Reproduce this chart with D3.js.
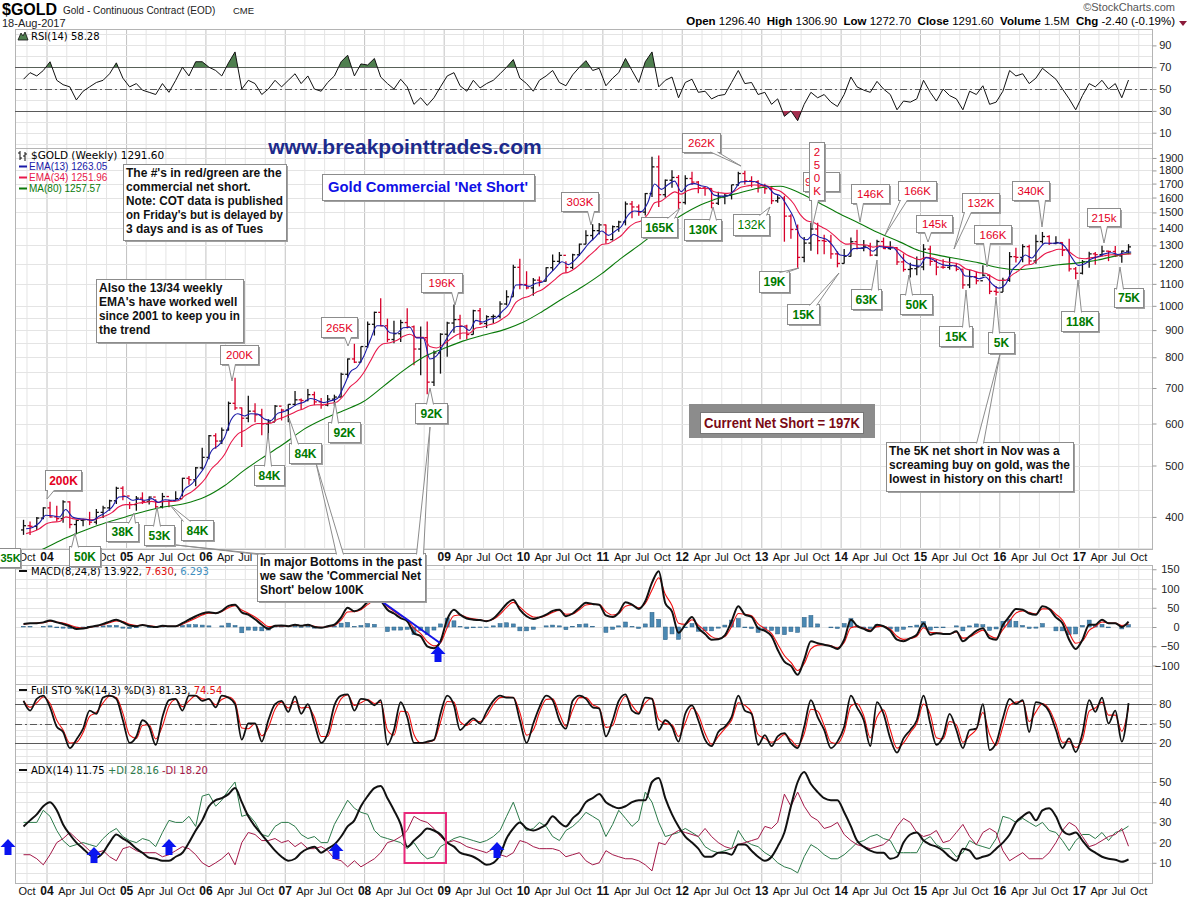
<!DOCTYPE html>
<html>
<head>
<meta charset="utf-8">
<title>$GOLD weekly - commercial net short</title>
<script src="https://cdn.jsdelivr.net/npm/d3@7"></script>
<style>
  body { margin: 0; background: #fff; }
  text { font-family: "Liberation Sans", Arial, sans-serif; }
  .mono { font-family: "DejaVu Sans", Verdana, sans-serif; }
</style>
</head>
<body>
<svg id="chart" width="1200" height="900"></svg>
<script>
// monthly samples, Sep 2003 .. Aug 2017
var highs = [395,392,400,417,
  427,420,430,428,395,397,409,414,420,431,456,457,
  427,438,445,437,432,444,431,447,474,478,497,540,
  571,575,590,660,732,643,677,655,640,611,650,640,
  652,691,669,697,689,670,679,680,748,796,848,838,
  934,975,1033,946,937,941,990,918,914,934,824,888,
  933,1006,962,921,983,991,960,963,1020,1070,1195,1227,
  1162,1128,1136,1182,1249,1263,1213,1254,1310,1389,1425,1432,
  1424,1417,1447,1573,1577,1552,1632,1911,1921,1730,1802,1764,
  1763,1790,1719,1679,1666,1640,1626,1691,1790,1798,1755,1725,
  1698,1683,1616,1612,1488,1424,1348,1434,1434,1362,1362,1267,
  1280,1345,1392,1331,1315,1332,1345,1324,1291,1255,1205,1239,
  1307,1298,1224,1224,1232,1205,1175,1170,1159,1192,1145,1090,
  1130,1263,1287,1306,1304,1362,1378,1358,1353,1318,1338,1184,
  1220,1264,1263,1298,1270,1297,1272,1307];
var lows = [370,370,378,396,
  399,392,390,381,371,384,386,387,398,411,423,430,
  414,411,423,422,414,415,417,430,437,460,457,491,
  514,538,549,582,636,542,603,603,570,560,605,608,
  603,648,637,661,650,640,647,648,673,731,780,782,
  834,879,915,854,850,855,906,773,740,681,706,745,
  802,890,865,864,883,920,908,928,947,1002,1040,1075,
  1074,1045,1088,1111,1163,1201,1155,1174,1242,1306,1330,1363,
  1309,1328,1379,1418,1462,1478,1480,1603,1535,1600,1670,1523,
  1553,1690,1631,1613,1527,1549,1555,1587,1684,1694,1673,1635,
  1627,1555,1565,1321,1338,1180,1208,1270,1251,1251,1227,1182,
  1202,1239,1277,1268,1240,1240,1280,1274,1194,1160,1131,1142,
  1167,1190,1142,1175,1170,1162,1077,1080,1098,1136,1052,1046,
  1062,1110,1207,1208,1199,1200,1310,1302,1307,1241,1161,1122,
  1146,1180,1195,1240,1214,1236,1205,1251];
var closes = [385,384,398,416,
  400,397,427,387,394,395,391,408,416,429,453,438,
  422,434,428,436,418,437,429,433,473,470,495,518,
  569,556,583,655,642,614,633,623,599,604,647,636,
  652,665,663,680,659,650,667,673,743,794,783,838,
  923,972,917,864,886,930,913,829,871,718,815,884,
  928,942,916,883,979,926,954,955,1008,1040,1182,1097,
  1081,1118,1113,1180,1213,1245,1181,1248,1307,1357,1386,1421,
  1333,1410,1439,1556,1536,1502,1628,1828,1620,1725,1746,1566,
  1738,1711,1669,1664,1561,1604,1615,1691,1776,1720,1714,1675,
  1663,1578,1596,1476,1393,1234,1313,1396,1327,1323,1253,1202,
  1240,1321,1284,1296,1246,1322,1282,1287,1210,1171,1175,1184,
  1279,1213,1183,1182,1190,1172,1095,1135,1115,1142,1065,1061,
  1117,1238,1234,1293,1215,1322,1351,1311,1316,1273,1174,1152,
  1211,1253,1249,1268,1266,1242,1268,1291.6];
var firstOpen = 378;
var ema13 = [380,382,390,403,
  402,400,413,400,397,396,394,401,408,418,436,437,
  430,432,430,433,426,431,430,431,452,461,478,498,
  533,545,564,610,626,620,626,625,612,608,627,632,
  642,653,658,669,664,657,662,668,705,750,766,802,
  862,917,917,890,888,909,911,870,870,794,805,844,
  886,914,915,899,939,932,943,949,978,1009,1095,1096,
  1088,1103,1108,1144,1178,1211,1196,1222,1264,1310,1348,1384,
  1358,1384,1411,1483,1509,1505,1566,1697,1658,1691,1718,1642,
  1690,1700,1684,1674,1617,1610,1612,1651,1713,1716,1715,1695,
  1679,1628,1612,1544,1468,1351,1332,1364,1345,1334,1293,1247,
  1243,1282,1283,1289,1267,1294,1288,1287,1248,1209,1192,1188,
  1233,1223,1203,1192,1191,1181,1138,1136,1125,1133,1099,1080,
  1098,1168,1201,1247,1231,1276,1313,1312,1314,1293,1233,1192,
  1201,1227,1238,1253,1259,1250,1259,1263.05];
var ema34 = [372,375,380,388,
  391,392,400,397,396,396,395,398,402,408,418,422,
  422,425,426,428,426,428,428,429,439,446,457,471,
  493,507,524,553,573,582,593,600,600,601,611,617,
  625,634,640,649,651,651,655,659,678,704,721,747,
  786,828,848,852,860,876,884,872,872,838,833,845,
  864,881,889,888,908,912,921,929,946,967,1015,1033,
  1043,1060,1072,1096,1122,1150,1157,1177,1206,1240,1272,1305,
  1311,1333,1357,1402,1432,1447,1488,1564,1577,1610,1640,1624,
  1649,1663,1664,1664,1641,1633,1629,1643,1673,1683,1690,1687,
  1682,1659,1645,1607,1559,1486,1447,1436,1412,1392,1361,1326,
  1307,1310,1304,1302,1290,1297,1293,1291,1273,1250,1233,1222,
  1235,1230,1219,1211,1206,1198,1175,1166,1155,1152,1133,1117,
  1117,1144,1164,1193,1198,1226,1254,1267,1278,1277,1254,1231,
  1227,1233,1236,1243,1248,1247,1251,1251.96];
// MA(80): one value every third month from Sep 2003, last one Aug 2017
var ma80 = [336,350,365,378,390,400,410,418,424,436,
  458,490,520,550,585,612,635,660,705,755,
  800,830,858,880,900,930,975,1030,1085,1150,
  1230,1310,1400,1480,1550,1600,1635,1670,1680,1630,
  1560,1490,1430,1370,1320,1270,1245,1225,1205,1180,
  1170,1180,1195,1205,1220,1245,1257.57];
var rsi = [59,65,62,67,
  75,58,54,52,40,48,52,56,58,64,74,60,
  52,55,49,47,45,55,47,58,70,62,75,75,
  70,67,62,74,84,50,58,55,45,50,58,52,
  58,64,55,62,50,48,56,62,75,81,62,73,
  72,78,61,55,50,59,52,36,42,35,42,52,
  62,65,53,48,58,51,55,58,64,70,77,60,
  55,48,58,62,67,56,53,63,70,76,67,69,
  53,60,65,78,67,56,75,84,52,58,61,42,
  56,59,47,48,41,44,45,56,67,55,56,45,
  47,36,41,25,30,21,36,47,42,45,38,34,
  45,61,52,49,47,57,50,45,31,39,38,41,
  58,47,39,50,44,41,31,48,45,53,36,38,
  48,67,62,64,55,60,69,64,59,50,41,31,
  44,55,52,58,50,55,42,58.28];
var macd = [8,10,10,12,
  17,12,8,2,-5,-4,0,3,8,14,19,12,
  4,2,5,2,0,3,2,2,10,19,28,35,
  38,36,42,55,58,38,32,20,6,-5,3,4,
  2,6,3,6,0,-2,2,6,25,50,41,48,
  65,75,68,45,35,23,15,-16,-24,-50,-55,-37,
  20,45,32,22,19,18,15,22,40,60,71,45,
  28,21,25,32,42,45,28,35,50,63,60,58,
  30,26,37,64,58,47,67,115,145,62,40,-15,
  6,26,-3,-18,-33,-32,-22,15,54,32,26,-3,
  -10,-24,-59,-90,-101,-124,-85,-37,-42,-46,-50,-57,
  -33,19,3,-5,-11,6,2,-10,-33,-37,-29,-20,
  10,-20,-16,-18,-18,-11,-37,-24,-10,-3,-29,-33,
  5,28,47,45,35,32,54,47,25,10,-33,-57,
  -33,6,6,19,10,10,0,13.922];
var macdSignal = [7,9,10,11,
  15,13,10,5,-1,-3,-1,2,6,11,16,14,
  7,4,5,3,1,2,2,2,7,15,23,31,
  36,36,40,50,55,44,36,26,13,1,2,3,
  2,5,4,5,2,-1,1,4,18,39,40,45,
  58,69,68,53,41,29,20,-3,-17,-38,-49,-41,
  -1,29,31,25,21,19,16,20,33,51,64,52,
  36,26,25,30,38,43,33,34,45,57,59,58,
  40,31,35,54,57,50,61,96,128,85,56,10,
  7,19,5,-10,-25,-30,-25,1,35,33,29,8,
  -4,-17,-44,-74,-92,-113,-95,-57,-47,-46,-49,-54,
  -40,-2,1,-3,-8,1,2,-6,-24,-32,-30,-24,
  -2,-14,-15,-17,-18,-13,-29,-26,-16,-8,-22,-29,
  -7,16,36,42,38,34,47,47,33,18,-15,-42,
  -36,-9,1,13,11,10,4,7.63];
var macdHist = [1,1,0,1,
  3,-2,-3,-4,-5,-1,1,2,3,4,4,-3,
  -4,-2,0,-1,-1,1,0,0,4,6,6,5,
  3,0,3,10,4,-15,-8,-9,-10,-8,2,1,
  0,1,-1,1,-3,-2,2,3,10,12,1,4,
  9,7,0,-12,-8,-8,-6,-20,-9,-20,-8,8,
  23,16,1,-4,-2,-1,-1,3,9,11,8,-10,
  -10,-6,0,3,5,3,-7,2,7,8,2,0,
  -14,-6,3,13,1,-4,8,38,20,-33,-18,-32,
  -2,9,-11,-10,-10,-3,5,18,22,-2,-4,-14,
  -8,-9,-18,-20,-12,-14,25,30,8,0,-2,-4,
  9,22,3,-3,-4,6,0,-5,-11,-6,2,5,
  14,-8,-2,-2,0,3,-10,3,8,6,-9,-5,
  15,20,15,4,-4,-3,9,0,-10,-10,-20,-18,
  4,18,6,7,-2,0,-5,6.293];
var stoK = [85,70,88,93,75,45,37,12,25,42,
  70,65,90,93,88,55,20,30,55,45,
  17,60,86,88,70,93,93,85,88,75,
  93,90,80,25,50,50,22,55,80,85,
  68,92,65,80,50,20,35,78,93,95,
  70,88,86,78,86,17,40,83,60,20,
  20,22,25,65,93,78,40,50,58,50,
  68,85,93,90,90,55,20,50,75,93,
  86,55,42,85,93,88,75,73,30,55,
  85,95,70,65,90,88,40,55,45,22,
  65,78,55,25,15,37,45,60,93,70,
  65,17,32,15,30,35,20,12,45,86,
  60,40,12,22,45,93,75,55,15,83,
  65,27,5,27,40,55,93,50,17,30,
  65,40,12,40,42,80,9,20,58,88,
  80,86,37,83,80,68,40,12,27,6,
  35,86,68,90,50,70,22,81.33];
var stoD = [85,75,82,91,81,55,40,20,21,36,
  61,67,82,92,90,66,32,27,47,48,
  26,46,77,87,76,85,93,88,87,79,
  87,91,83,43,42,50,31,44,72,83,
  74,84,74,75,60,30,30,64,88,94,
  78,82,87,81,83,40,32,69,68,33,
  20,21,24,52,84,83,53,47,55,53,
  62,79,90,91,90,67,32,40,67,87,
  88,65,46,71,90,90,79,74,44,47,
  75,92,78,67,82,89,56,50,48,30,
  51,74,63,35,18,30,42,55,82,78,
  67,33,27,21,25,33,25,15,34,72,
  69,47,21,19,37,77,81,62,28,60,
  71,40,12,20,36,50,80,64,28,26,
  53,48,21,31,41,67,33,16,45,78,
  83,84,53,68,81,72,49,21,22,13,
  25,69,74,83,63,63,38,74.54];
var adx = [28,31,34,38,40,36,29,24,20,17,
  14,12.5,15,20,24,22,20,17,15,12.5,
  12,11,11,13,15,20,26,31,38,41,
  42,44,47,40,33,28,24,20,16,13,
  11,12,15,17,18,15,17,19,23,28,
  31,38,43,47,48,42,36,29,18,21,
  24,27,26,24,20,18,15,14,13,11,
  9,10,14,22,27,30,27,26,27,29,
  33,30,28,32,35,40,42,44,40,38,
  37,38,40,41,41,50,52,42,34,28,
  23,20,17,13,13,15,15,14,19,19,
  16,13,11,13,18,25,38,50,55,49,
  45,42,41,41,35,28,21,18,16,15,
  15,12,13,20,24,25,21,19,18,16,
  13,11,17,16,12,13,14,17,20,24,
  30,33,35,31,36,37,33,26,24,25,
  21,17,15,13,12,11.5,10.5,11.75];
var plusDI = [30,30,30,36,33,26,21,18,19,20,
  19,18,22,25,27,23,21,20,22,21,
  18,25,31,30,30,33,28,43,44,38,
  41,46,50,33,34,30,24,23,28,30,
  30,28,24,22,23,20,20,29,35,41,
  37,35,34,26,23,22,21,20,17,20,
  15,12,13,18,20,22,23,22,21,20,
  21,23,26,33,40,31,26,27,30,28,
  23,21,26,28,31,35,33,31,23,29,
  36,32,28,31,45,40,30,23,24,25,
  27,25,23,18,16,15,16,17,26,21,
  19,18,15,13,10,8,7,5,13,19,
  17,14,12,12,14,17,20,21,23,24,
  22,21,15,15,15,15,21,23,19,17,
  17,13,15,21,19,18,17,22,33,32,
  30,32,30,28,30,26,25,21,16,21,
  24,24,22,25,21,25,26,28.16];
var minusDI = [14,14,12,9,14,20,22,25,22,19,
  16,15,16,13,11,17,18,16,15,15,
  15,13,14,16,18,17,14,10,8,10,
  12,15,9,20,25,24,21,21,22,20,
  21,18,20,17,17,18,16,12,11,8,
  11,8,10,12,15,20,21,23,26,33,
  31,30,27,23,20,21,20,18,17,16,
  15,17,14,13,15,21,20,18,17,17,
  17,16,13,14,15,11,9,10,16,14,
  13,12,12,11,9,6,20,19,24,26,
  25,24,23,27,23,20,18,17,19,20,
  21,22,28,27,30,44,38,45,38,33,
  31,27,28,30,24,21,19,18,17,18,
  19,22,28,32,30,25,23,24,26,20,
  21,25,29,23,19,25,27,25,16,11,
  13,15,12,12,12,15,20,26,30,28,
  23,18,19,21,23,24,27,18.2];

var rsiTicks = [10, 30, 50, 70, 90];
var priceTicks = [400, 500, 600, 700, 800, 900, 1000, 1100, 1200, 1300, 1400, 1500, 1600, 1700, 1800, 1900];
var macdTicks = [-100, -50, 0, 50, 100, 150];
var stoTicks = [20, 50, 80];
var adxTicks = [10, 20, 30, 40, 50];

// commercial net short call-outs (text, box, pointer tip)
var redLabels = [
  {t: '200K', x: 45, y: 470, w: 36, h: 20, bold: true, tip: [47, 499]},
  {t: '200K', x: 220, y: 345, w: 38, h: 19, tip: [232, 381]},
  {t: '265K', x: 321, y: 317, w: 36, h: 20, tip: [348, 346]},
  {t: '196K', x: 421, y: 273, w: 41, h: 19, tip: [455, 305]},
  {t: '303K', x: 561, y: 192, w: 37, h: 19, tip: [591, 225]},
  {t: '262K', x: 682, y: 133, w: 38, h: 19, tip: [741, 166]},
  {t: '146K', x: 851, y: 184, w: 38, h: 19, tip: [860, 222]},
  {t: '166K', x: 898, y: 181, w: 38, h: 19, tip: [885, 235]},
  {t: '145k', x: 916, y: 215, w: 36, h: 17, tip: [928, 242]},
  {t: '132K', x: 962, y: 193, w: 37, h: 19, tip: [954, 249]},
  {t: '166K', x: 974, y: 225, w: 37, h: 18, tip: [987, 267]},
  {t: '340K', x: 1012, y: 181, w: 37, h: 19, tip: [1042, 227]},
  {t: '215k', x: 1087, y: 208, w: 33, h: 18, tip: [1104, 243]}
];
var greenLabels = [
  {t: '35K', x: -3, y: 548, w: 23, h: 19, size: '11px'},
  {t: '50K', x: 69, y: 546, w: 31, h: 20, tip: [75, 533]},
  {t: '38K', x: 106, y: 522, w: 32, h: 19, tip: [134, 513]},
  {t: '53K', x: 144, y: 525, w: 30, h: 20, tip: [157, 507]},
  {t: '84K', x: 181, y: 520, w: 32, h: 20, tip: [170, 505]},
  {t: '84K', x: 254, y: 465, w: 30, h: 20, tip: [268, 433]},
  {t: '84K', x: 289, y: 443, w: 32, h: 20, tip: [289, 418]},
  {t: '92K', x: 328, y: 422, w: 32, h: 20, tip: [335, 402]},
  {t: '92K', x: 415, y: 403, w: 32, h: 20, tip: [430, 388]},
  {t: '165K', x: 641, y: 217, w: 36, h: 20, tip: [680, 208]},
  {t: '130K', x: 684, y: 219, w: 37, h: 21, tip: [713, 207]},
  {t: '132K', x: 733, y: 214, w: 36, h: 21, bold: false, tip: [770, 207]},
  {t: '19K', x: 759, y: 271, w: 30, h: 21, tip: [799, 268]},
  {t: '15K', x: 787, y: 304, w: 32, h: 20, tip: [839, 273]},
  {t: '63K', x: 851, y: 289, w: 30, h: 20, tip: [877, 260]},
  {t: '50K', x: 900, y: 294, w: 32, h: 20, tip: [909, 275]},
  {t: '15K', x: 939, y: 326, w: 33, h: 20, tip: [966, 290]},
  {t: '5K', x: 988, y: 332, w: 26, h: 21, tip: [996, 297]},
  {t: '118K', x: 1061, y: 311, w: 37, h: 20, tip: [1078, 280]},
  {t: '75K', x: 1114, y: 288, w: 29, h: 19, tip: [1120, 267]}
];
var notes = [
  {x: 123, y: 164, w: 163, h: 76, lines: ["The #'s in red/green are the", 'commercial net short.', 'Note: COT data is published', "on Friday's but is delayed by", '3 days and is as of Tues'], tips: []},
  {x: 96, y: 279, w: 147, h: 63, lines: ['Also the 13/34 weekly', "EMA's have worked well", 'since 2001 to keep you in', 'the trend'], tips: []},
  {x: 257, y: 553, w: 168, h: 48, lines: ['In major Bottoms in the past', "we saw the 'Commercial Net", "Short' below 100K"], tips: [[176, 545, 262], [316, 463, 340], [430, 427, 420]]},
  {x: 886, y: 442, w: 187, h: 49, lines: ['The 5K net short in Nov was a', 'screaming buy on gold, was the', 'lowest in history on this chart!'], tips: [[1000, 354, 980]]}
];
var adxArrows = [[8, 839], [94, 847], [169, 839], [336, 843], [497, 842]];

var svg = d3.select('#chart');
var defs = svg.append('defs');
var L = 15, R = 1152;
var x = d3.scaleTime().domain([new Date(2004, 0, 1), new Date(2017, 0, 1)]).range([47, 1079.4]);
var mid = closes.map(function (d, i) { return new Date(2003, 8 + i, 15); });
var monthEnd = closes.map(function (d, i) { return new Date(2003, 8 + i, 27); });
var maDates = ma80.map(function (d, i) { return i === ma80.length - 1 ? monthEnd[closes.length - 1] : monthEnd[i * 3]; });
var quarters = d3.timeMonth.every(3).range(new Date(2003, 9, 1), new Date(2017, 10, 1));

function clamp(v, a, b) { return Math.max(a, Math.min(b, v)); }

function fit(sel, maxW) {
  sel.each(function () {
    if (this.getComputedTextLength() > maxW) {
      d3.select(this).attr('textLength', maxW).attr('lengthAdjust', 'spacingAndGlyphs');
    }
  });
}

function panel(top, bottom, y, hLines) {
  var id = 'clip' + top;
  defs.append('clipPath').attr('id', id).append('rect')
    .attr('x', L).attr('y', top).attr('width', R - L).attr('height', bottom - top);
  var g = svg.append('g');
  g.append('g').selectAll('line').data(quarters).join('line')
    .attr('x1', function (d) { return x(d); }).attr('x2', function (d) { return x(d); })
    .attr('y1', top).attr('y2', bottom)
    .attr('stroke', function (d) { return d.getMonth() === 0 ? '#c2c2c2' : '#e4e4e4'; });
  g.append('g').selectAll('line').data(hLines).join('line')
    .attr('x1', L).attr('x2', R)
    .attr('y1', function (d) { return Math.round(y(d)) + 0.5; })
    .attr('y2', function (d) { return Math.round(y(d)) + 0.5; })
    .attr('stroke', '#e4e4e4');
  g.append('rect').attr('x', L + 0.5).attr('y', top + 0.5).attr('width', R - L).attr('height', bottom - top)
    .attr('fill', 'none').attr('stroke', '#b4b4b4');
  var plot = g.append('g').attr('clip-path', 'url(#' + id + ')');
  return {g: g, plot: plot, top: top, bottom: bottom};
}

function rightAxis(p, y, ticks, endX) {
  var ax = p.g.append('g').attr('transform', 'translate(' + (R + 0.5) + ',0)')
    .call(d3.axisRight(y).tickValues(ticks).tickSize(4).tickFormat(d3.format('d')));
  ax.select('.domain').remove();
  ax.selectAll('line').attr('stroke', '#999');
  ax.selectAll('text').attr('x', endX).attr('text-anchor', 'end')
    .style('font-family', '"Liberation Sans", Arial, sans-serif').style('font-size', '11px').attr('fill', '#222');
}

function refLine(p, y, v, dash) {
  p.plot.append('line').attr('x1', L).attr('x2', R)
    .attr('y1', Math.round(y(v)) + 0.5).attr('y2', Math.round(y(v)) + 0.5)
    .attr('stroke', '#5a5a5a').attr('stroke-width', 1.2)
    .attr('stroke-dasharray', dash || null);
}

// date labels; "hidden" lists x ranges covered by call-out boxes
function dateAxis(yBase, hidden) {
  var shown = quarters.filter(function (d) {
    var px = x(d);
    return !hidden.some(function (h) { return px > h[0] && px < h[1]; });
  });
  svg.append('g').selectAll('text').data(shown).join('text')
    .attr('x', function (d) { return x(d); })
    .attr('y', yBase)
    .attr('text-anchor', 'middle')
    .style('font-size', function (d) { return d.getMonth() === 0 ? '12px' : '11px'; })
    .style('font-weight', function (d) { return d.getMonth() === 0 ? 'bold' : 'normal'; })
    .attr('fill', '#111')
    .text(function (d) { return d.getMonth() === 0 ? d3.timeFormat('%y')(d) : d3.timeFormat('%b')(d); });
}

function lineOf(y, dates) {
  return d3.line().x(function (d, i) { return x(dates[i]); }).y(function (d) { return y(d); });
}

// ---------- header ----------
svg.append('text').attr('x', 2).attr('y', 15).style('font-size', '16px').style('font-weight', 'bold').text('$GOLD');
var sub = svg.append('text').attr('x', 63).attr('y', 14).style('font-size', '10px').attr('fill', '#222').text('Gold - Continuous Contract (EOD)');
fit(sub, 158);
svg.append('text').attr('x', 233).attr('y', 14).style('font-size', '9.5px').attr('fill', '#222').text('CME');
svg.append('text').attr('x', 2).attr('y', 27).style('font-size', '11px').attr('fill', '#222').text('18-Aug-2017');
svg.append('text').attr('x', 1175).attr('y', 11).attr('text-anchor', 'end').style('font-size', '11px').attr('fill', '#555').text('\u00a9StockCharts.com');
var quote = svg.append('text').attr('x', 1175).attr('y', 25).attr('text-anchor', 'end').style('font-size', '11.5px').style('white-space', 'pre');
[['Open', ' 1296.40  '], ['High', ' 1306.90  '], ['Low', ' 1272.70  '], ['Close', ' 1291.60  '], ['Volume', ' 1.5M  '], ['Chg', ' -2.40 (-0.19%)']]
  .forEach(function (q) {
    quote.append('tspan').style('font-weight', 'bold').text(q[0]);
    quote.append('tspan').text(q[1]);
  });
fit(quote, 498);
svg.append('path').attr('d', 'M1179,21L1187,21L1183,26Z').attr('fill', '#8b1a3a');

// ---------- RSI ----------
var yR = d3.scaleLinear().domain([-4, 105]).range([148, 29]);
var rsiP = panel(29, 148, yR, d3.range(0, 101, 10));
refLine(rsiP, yR, 70);
refLine(rsiP, yR, 30);
refLine(rsiP, yR, 50, '7,3,2,3');
defs.append('clipPath').attr('id', 'rsiHi').append('rect').attr('x', L).attr('y', 29).attr('width', R - L).attr('height', yR(70) - 29);
defs.append('clipPath').attr('id', 'rsiLo').append('rect').attr('x', L).attr('y', yR(30)).attr('width', R - L).attr('height', 148 - yR(30));
rsiP.plot.append('path').datum(rsi).attr('clip-path', 'url(#rsiHi)')
  .attr('d', d3.area().x(function (d, i) { return x(mid[i]); }).y0(yR(70)).y1(function (d) { return yR(d); }))
  .attr('fill', '#4f7f4f');
rsiP.plot.append('path').datum(rsi).attr('clip-path', 'url(#rsiLo)')
  .attr('d', d3.area().x(function (d, i) { return x(mid[i]); }).y0(yR(30)).y1(function (d) { return yR(d); }))
  .attr('fill', '#a3304f');
rsiP.plot.append('path').datum(rsi).attr('d', lineOf(yR, mid)).attr('fill', 'none').attr('stroke', '#111').attr('stroke-width', 1);
rightAxis(rsiP, yR, rsiTicks, 19);
svg.append('path').attr('d', 'M18,40L21,33L23,36L25,32L28,40Z').attr('fill', '#4f7f4f').attr('stroke', '#111').attr('stroke-width', 0.8);
svg.append('text').attr('class', 'mono').attr('x', 31).attr('y', 40).style('font-size', '10px').text('RSI(14) 58.28');

// ---------- price ----------
var yP = d3.scaleLog().domain([348, 1984]).range([549, 148]);
var priceP = panel(148, 549, yP, priceTicks.concat([350, 450, 550, 650, 750, 850, 950]));
var barG = priceP.plot.append('g').selectAll('g').data(closes).join('g')
  .attr('stroke', function (d, i) { var o = i ? closes[i - 1] : firstOpen; return d >= o ? '#111' : '#d6002a'; })
  .attr('stroke-width', 1.3);
barG.append('line')
  .attr('x1', function (d, i) { return x(mid[i]); }).attr('x2', function (d, i) { return x(mid[i]); })
  .attr('y1', function (d, i) { return yP(highs[i]); }).attr('y2', function (d, i) { return yP(lows[i]); });
barG.append('line')
  .attr('x1', function (d, i) { return x(mid[i]) - 2.5; }).attr('x2', function (d, i) { return x(mid[i]); })
  .attr('y1', function (d, i) { return yP(i ? closes[i - 1] : firstOpen); })
  .attr('y2', function (d, i) { return yP(i ? closes[i - 1] : firstOpen); });
barG.append('line')
  .attr('x1', function (d, i) { return x(mid[i]); }).attr('x2', function (d, i) { return x(mid[i]) + 2.5; })
  .attr('y1', function (d) { return yP(d); }).attr('y2', function (d) { return yP(d); });
priceP.plot.append('path').datum(ma80).attr('d', lineOf(yP, maDates).curve(d3.curveMonotoneX))
  .attr('fill', 'none').attr('stroke', '#0a7a0a').attr('stroke-width', 1.1);
priceP.plot.append('path').datum(ema34).attr('d', lineOf(yP, monthEnd).curve(d3.curveMonotoneX))
  .attr('fill', 'none').attr('stroke', '#e8184a').attr('stroke-width', 1.1);
priceP.plot.append('path').datum(ema13).attr('d', lineOf(yP, monthEnd).curve(d3.curveMonotoneX))
  .attr('fill', 'none').attr('stroke', '#1a1aa8').attr('stroke-width', 1.1);
rightAxis(priceP, yP, priceTicks, 31);

// legend
var lg = svg.append('g');
lg.append('path').attr('d', 'M20,151V160M18,153H20M20,158H22M25,152V161M23,156H25M25,154H27').attr('stroke', '#111').attr('fill', 'none');
lg.append('text').attr('class', 'mono').attr('x', 31).attr('y', 159).style('font-size', '10.5px').text('$GOLD (Weekly) 1291.60');
[['EMA(13) 1263.05', '#1a1aa8'], ['EMA(34) 1251.96', '#e8184a'], ['MA(80) 1257.57', '#0a7a0a']].forEach(function (e, k) {
  lg.append('line').attr('x1', 19).attr('x2', 27).attr('y1', 166.5 + k * 11).attr('y2', 166.5 + k * 11).attr('stroke', e[1]).attr('stroke-width', 2);
  lg.append('text').attr('x', 29).attr('y', 170 + k * 11).style('font-size', '10px').attr('fill', e[1]).text(e[0]);
});

dateAxis(561, [[55, 101], [250, 430]]);

// ---------- MACD ----------
var yM = d3.scaleLinear().domain([-148, 161]).range([684, 565]);
var macdP = panel(565, 684, yM, d3.range(-125, 151, 25));
macdP.plot.append('g').selectAll('rect').data(macdHist).join('rect')
  .attr('x', function (d, i) { return x(mid[i]) - 2; })
  .attr('width', 4)
  .attr('y', function (d) { return Math.min(yM(d), yM(0)); })
  .attr('height', function (d) { return Math.abs(yM(d) - yM(0)); })
  .attr('fill', '#4a88b2').attr('stroke', '#2a5f85').attr('stroke-width', 0.5);
macdP.plot.append('path').datum(macdSignal).attr('d', lineOf(yM, mid).curve(d3.curveMonotoneX))
  .attr('fill', 'none').attr('stroke', '#f01010').attr('stroke-width', 1.1);
macdP.plot.append('path').datum(macd).attr('d', lineOf(yM, mid).curve(d3.curveMonotoneX))
  .attr('fill', 'none').attr('stroke', '#111').attr('stroke-width', 2);
rightAxis(macdP, yM, macdTicks, 27);
var ml = svg.append('text').attr('class', 'mono').attr('x', 31).attr('y', 575).style('font-size', '10px');
ml.append('tspan').text('MACD(8,24,8) 13.922, ');
ml.append('tspan').attr('fill', '#e01010').text('7.630');
ml.append('tspan').text(', ');
ml.append('tspan').attr('fill', '#3f8fbf').text('6.293');
svg.append('line').attr('x1', 19).attr('x2', 27).attr('y1', 571).attr('y2', 571).attr('stroke', '#111').attr('stroke-width', 2);
// trend line + arrow
svg.append('line').attr('x1', 377).attr('y1', 598).attr('x2', 440).attr('y2', 643).attr('stroke', '#1515e8').attr('stroke-width', 2);

function upArrow(cx, top) {
  svg.append('path')
    .attr('d', 'M' + cx + ',' + top + 'L' + (cx + 7.5) + ',' + (top + 8) + 'L' + (cx + 3.5) + ',' + (top + 8) +
      'L' + (cx + 3.5) + ',' + (top + 16) + 'L' + (cx - 3.5) + ',' + (top + 16) + 'L' + (cx - 3.5) + ',' + (top + 8) +
      'L' + (cx - 7.5) + ',' + (top + 8) + 'Z')
    .attr('fill', '#0a14f0');
}
upArrow(438, 646);

// ---------- Full STO ----------
var yS = d3.scaleLinear().domain([-11, 111]).range([763, 684]);
var stoP = panel(684, 763, yS, d3.range(0, 101, 10));
refLine(stoP, yS, 80);
refLine(stoP, yS, 20);
refLine(stoP, yS, 50, '7,3,2,3');
stoP.plot.append('path').datum(stoD).attr('d', lineOf(yS, mid).curve(d3.curveMonotoneX))
  .attr('fill', 'none').attr('stroke', '#f01010').attr('stroke-width', 1.1);
stoP.plot.append('path').datum(stoK).attr('d', lineOf(yS, mid).curve(d3.curveMonotoneX))
  .attr('fill', 'none').attr('stroke', '#111').attr('stroke-width', 1.8);
rightAxis(stoP, yS, stoTicks, 19);
var sl = svg.append('text').attr('class', 'mono').attr('x', 31).attr('y', 694).style('font-size', '10px');
sl.append('tspan').text('Full STO %K(14,3) %D(3) 81.33, ');
sl.append('tspan').attr('fill', '#e01010').text('74.54');
svg.append('line').attr('x1', 19).attr('x2', 27).attr('y1', 690).attr('y2', 690).attr('stroke', '#111').attr('stroke-width', 2);

// ---------- ADX ----------
var yA = d3.scaleLinear().domain([0, 59.4]).range([883, 763]);
var adxP = panel(763, 883, yA, d3.range(5, 56, 5));
adxP.plot.append('path').datum(plusDI).attr('d', lineOf(yA, mid))
  .attr('fill', 'none').attr('stroke', '#2c7a4a').attr('stroke-width', 1);
adxP.plot.append('path').datum(minusDI).attr('d', lineOf(yA, mid))
  .attr('fill', 'none').attr('stroke', '#a31848').attr('stroke-width', 1);
adxP.plot.append('path').datum(adx).attr('d', lineOf(yA, mid).curve(d3.curveMonotoneX))
  .attr('fill', 'none').attr('stroke', '#111').attr('stroke-width', 2);
rightAxis(adxP, yA, adxTicks, 19);
var al = svg.append('text').attr('class', 'mono').attr('x', 31).attr('y', 774).style('font-size', '10px');
al.append('tspan').text('ADX(14) 11.75 ');
al.append('tspan').attr('fill', '#2c7a4a').text('+DI 28.16 ');
al.append('tspan').attr('fill', '#a31848').text('-DI 18.20');
svg.append('line').attr('x1', 19).attr('x2', 27).attr('y1', 770).attr('y2', 770).attr('stroke', '#111').attr('stroke-width', 2);
adxArrows.forEach(function (a) { upArrow(a[0], a[1]); });
svg.append('rect').attr('x', 404.5).attr('y', 813).attr('width', 41.5).attr('height', 50)
  .attr('fill', 'none').attr('stroke', '#e8287a').attr('stroke-width', 2);

dateAxis(895, []);

// ---------- annotations ----------
var ann = svg.append('g');

function box(b) {
  ann.append('rect').attr('x', b.x + 2).attr('y', b.y + 2).attr('width', b.w).attr('height', b.h).attr('fill', '#a0a0a0');
  ann.append('rect').attr('x', b.x + 0.5).attr('y', b.y + 0.5).attr('width', b.w).attr('height', b.h)
    .attr('fill', '#fff').attr('stroke', '#8c8c8c');
}

function pointer(b, tip, baseX) {
  var bx, by, dx = 0, dy = 0;
  if (tip[1] >= b.y + b.h) {
    by = b.y + b.h; bx = baseX || clamp(tip[0], b.x + 6, b.x + b.w - 6); dx = 3.5;
  } else if (tip[1] <= b.y) {
    by = b.y + 1.5; bx = baseX || clamp(tip[0], b.x + 6, b.x + b.w - 6); dx = 3.5;
  } else {
    by = clamp(tip[1], b.y + 5, b.y + b.h - 5); bx = tip[0] < b.x ? b.x + 1.5 : b.x + b.w; dy = 3.5;
  }
  ann.append('path')
    .attr('d', 'M' + (bx - dx) + ',' + (by - dy) + 'L' + tip[0] + ',' + tip[1] + 'L' + (bx + dx) + ',' + (by + dy))
    .attr('fill', '#fff').attr('stroke', '#8c8c8c');
}

function label(b, color, bold, size) {
  box(b);
  if (b.tip) pointer(b, b.tip);
  var cx = Math.max(b.x + b.w / 2 + 0.5, 10.5);
  ann.append('text').attr('x', cx).attr('y', b.y + b.h / 2 + 4.5)
    .attr('text-anchor', 'middle').attr('fill', color)
    .style('font-size', b.size || size).style('font-weight', bold ? 'bold' : 'normal').text(b.t);
}

redLabels.forEach(function (b) { label(b, '#e4001e', b.bold, b.bold ? '12px' : '11.5px'); });
greenLabels.forEach(function (b) { label(b, '#007a00', b.bold !== false, '12px'); });

// stacked "250K" tag over an older one (only its first digit peeks out)
box({x: 803, y: 172, w: 36, h: 19});
defs.append('clipPath').attr('id', 'peek').append('rect').attr('x', 800).attr('y', 170).attr('width', 9.5).attr('height', 24);
ann.append('text').attr('x', 805).attr('y', 186).attr('clip-path', 'url(#peek)')
  .attr('fill', '#e4001e').style('font-size', '11.5px').text('9');
var vb = {x: 809, y: 142, w: 15, h: 58};
box(vb);
pointer(vb, [812, 228]);
['2', '5', '0', 'K'].forEach(function (c, k) {
  ann.append('text').attr('x', 817).attr('y', 156 + k * 13).attr('text-anchor', 'middle')
    .attr('fill', '#e4001e').style('font-size', '11.5px').text(c);
});

notes.forEach(function (n) {
  box(n);
  n.tips.forEach(function (t) { pointer(n, [t[0], t[1]], t[2]); });
  var tx = ann.selectAll(null).data(n.lines).enter().append('text')
    .attr('x', n.x + 3).attr('y', function (d, k) { return n.y + 13 + k * 14; })
    .style('font-size', '12px').style('font-weight', 'bold').attr('fill', '#111')
    .text(function (d) { return d; });
  fit(tx, n.w - 6);
});

// titles
var site = ann.append('text').attr('x', 405).attr('y', 154).attr('text-anchor', 'middle')
  .style('font-size', '21px').style('font-weight', 'bold').attr('fill', '#1c2a8c').text('www.breakpointtrades.com');
fit(site, 274);
box({x: 322, y: 174, w: 212, h: 26});
var gc = ann.append('text').attr('x', 428).attr('y', 192).attr('text-anchor', 'middle')
  .style('font-size', '15px').style('font-weight', 'bold').attr('fill', '#1010e6').text("Gold Commercial 'Net Short'");
fit(gc, 200);
ann.append('rect').attr('x', 689).attr('y', 404).attr('width', 186).attr('height', 34).attr('fill', '#8c8c8c');
ann.append('rect').attr('x', 700.5).attr('y', 412.5).attr('width', 163).attr('height', 21).attr('fill', '#fff').attr('stroke', '#777');
var cur = ann.append('text').attr('x', 782).attr('y', 428).attr('text-anchor', 'middle')
  .style('font-size', '15px').style('font-weight', 'bold').attr('fill', '#7a0a14').text('Current Net Short = 197K');
fit(cur, 156);
</script>
</body>
</html>
